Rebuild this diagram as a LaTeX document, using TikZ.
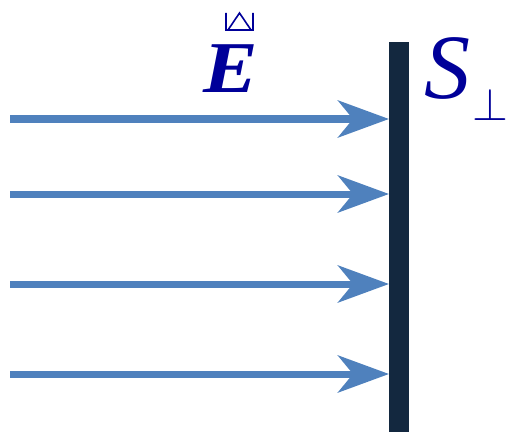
\documentclass[tikz,border=0pt]{standalone}
\usepackage{fix-cm}
\usepackage{fontspec}
\setmainfont{Liberation Serif}
\usetikzlibrary{arrows.meta}
\definecolor{arrowblue}{HTML}{4F81BD}
\definecolor{barnavy}{HTML}{13283F}
\definecolor{textblue}{HTML}{000099}
\tikzset{
  field/.style={draw=arrowblue, line width=7pt,
    -{Stealth[length=51pt, width=37pt, inset=15pt, fill=arrowblue]}},
  lbl/.style={text=textblue, inner sep=0pt, anchor=base},
}
\begin{document}
\begin{tikzpicture}[x=1pt,y=1pt]
\useasboundingbox (0,0) rectangle (508,-433);
\node[fill=barnavy, minimum width=20pt, minimum height=390pt, inner sep=0pt, anchor=north west] (bar) at (389,-42) {};
\foreach \i/\y in {1/119,2/194,3/284,4/374}{
  \coordinate (s\i) at (10,-\y);
  \draw[field] (s\i) -- (s\i -| bar.west);
}
\node[lbl, xscale=1.12, font=\fontsize{73}{75}\selectfont\bfseries\itshape] (E) at (231,-93) {E};
\draw[textblue, line width=1.6pt] (226,-13) -- (226,-30) -- (253,-30) -- (253,-13)
  (228,-30) -- (239.5,-13) -- (251,-30);
\node[lbl, font=\fontsize{92}{94}\selectfont\itshape, anchor=base west] (S) at (424,-99) {S};
\node[text=textblue, inner sep=0pt, anchor=south, font=\fontsize{46}{48}\selectfont] (perp) at (490,-121) {$\perp$};
\end{tikzpicture}
\end{document}
